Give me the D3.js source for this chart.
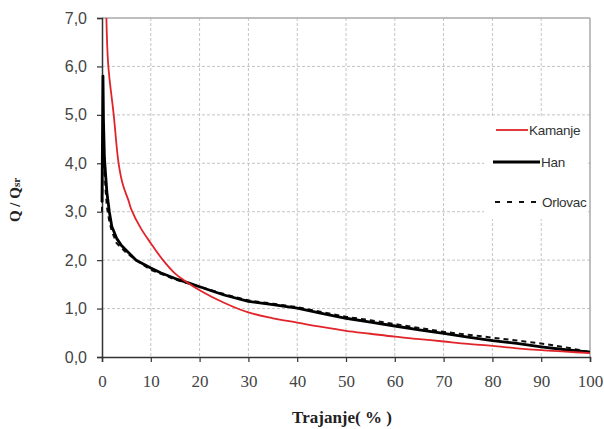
<!DOCTYPE html>
<html>
<head>
<meta charset="utf-8">
<script src="https://cdn.jsdelivr.net/npm/d3@7"></script>
<style>
  body { margin: 0; background: #fff; }
  .tick text { fill: #444; }
</style>
</head>
<body>
<div id="chart"></div>
<script>
// duration curves, x = trajanje (%), y = Q / Qsr
var kamanjeX = [0.9, 1.3, 2.4, 3.4, 4.3, 5.4, 6.0, 8, 10, 12.5, 15, 17, 20, 25, 30, 35, 40, 45, 50, 55, 60, 65, 70, 75, 80, 85, 90, 95, 100];
var kamanjeY = [7.0, 6.0, 5.0, 4.0, 3.55, 3.24, 3.05, 2.65, 2.35, 2.0, 1.72, 1.57, 1.38, 1.12, 0.92, 0.8, 0.71, 0.62, 0.54, 0.48, 0.42, 0.37, 0.32, 0.27, 0.23, 0.18, 0.14, 0.11, 0.08];

var hanX = [0, 0.2, 0.3, 0.5, 1, 1.5, 2, 3, 4, 5, 7, 10, 12, 15, 18, 20, 25, 30, 35, 40, 45, 50, 55, 60, 65, 70, 75, 80, 85, 90, 95, 100];
var hanY = [3.2, 5.8, 4.9, 4.1, 3.4, 3.0, 2.7, 2.45, 2.3, 2.2, 2.0, 1.84, 1.74, 1.62, 1.52, 1.45, 1.28, 1.15, 1.08, 1.01, 0.9, 0.8, 0.72, 0.64, 0.56, 0.49, 0.41, 0.34, 0.28, 0.21, 0.15, 0.1];

var orlovacX = [0, 0.2, 0.4, 0.7, 1, 1.5, 2, 3, 4, 5, 7, 10, 15, 20, 25, 30, 35, 40, 45, 50, 55, 60, 65, 70, 75, 80, 85, 90, 95, 100];
var orlovacY = [3.0, 4.9, 4.2, 3.5, 3.1, 2.8, 2.6, 2.35, 2.25, 2.15, 2.0, 1.8, 1.6, 1.45, 1.3, 1.17, 1.1, 1.03, 0.93, 0.83, 0.76, 0.68, 0.6, 0.52, 0.46, 0.4, 0.34, 0.28, 0.2, 0.1];

var xTicks = [0, 10, 20, 30, 40, 50, 60, 70, 80, 90, 100];
var yTicks = [0, 1, 2, 3, 4, 5, 6, 7];

var seriesNames = ["Kamanje", "Han", "Orlovac"];

var svgWidth = 604, svgHeight = 429;
var margin = { top: 18, right: 14, bottom: 72, left: 102 };
var width = svgWidth - margin.left - margin.right;
var height = svgHeight - margin.top - margin.bottom;

var svg = d3.select("#chart").append("svg")
  .attr("width", svgWidth)
  .attr("height", svgHeight);

var chartGroup = svg.append("g")
  .attr("transform", `translate(${margin.left}, ${margin.top})`);

var xScale = d3.scaleLinear().domain([0, 100]).range([0, width]);
var yScale = d3.scaleLinear().domain([0, 7]).range([height, 0]);

// grid
chartGroup.append("g").selectAll("line.gx")
  .data(xTicks.slice(1, -1))
  .enter().append("line")
  .attr("x1", d => xScale(d)).attr("x2", d => xScale(d))
  .attr("y1", 0).attr("y2", height)
  .attr("stroke", "#c4c4c4").attr("stroke-dasharray", "3,2");

chartGroup.append("g").selectAll("line.gy")
  .data(yTicks.slice(1, -1))
  .enter().append("line")
  .attr("x1", 0).attr("x2", width)
  .attr("y1", d => yScale(d)).attr("y2", d => yScale(d))
  .attr("stroke", "#c4c4c4").attr("stroke-dasharray", "3,2");

// top and right frame
chartGroup.append("line")
  .attr("x1", 0).attr("x2", width).attr("y1", 0).attr("y2", 0)
  .attr("stroke", "#a8a8a8").attr("stroke-width", 1.5);
chartGroup.append("line")
  .attr("x1", width).attr("x2", width).attr("y1", 0).attr("y2", height)
  .attr("stroke", "#a8a8a8").attr("stroke-width", 1.5);

// white legend box covering the grid
chartGroup.append("rect")
  .attr("x", xScale(78.3)).attr("y", yScale(4.97))
  .attr("width", xScale(99.6) - xScale(78.3))
  .attr("height", yScale(2.85) - yScale(4.97))
  .attr("fill", "#fff");

// axes
var leftAxis = d3.axisLeft(yScale).tickValues(yTicks)
  .tickSize(5).tickPadding(10)
  .tickFormat(d => d3.format(".1f")(d).replace(".", ","));
var bottomAxis = d3.axisBottom(xScale).tickValues(xTicks)
  .tickSize(5).tickPadding(13);

var yAxis = chartGroup.append("g").call(leftAxis);
yAxis.selectAll("text")
  .style("font-family", "Liberation Sans, Arial, sans-serif")
  .style("font-size", "16px");

var xAxis = chartGroup.append("g")
  .attr("transform", `translate(0, ${height})`)
  .call(bottomAxis);
xAxis.selectAll("text")
  .style("font-family", "Liberation Serif, Times New Roman, serif")
  .style("font-size", "17px");

[yAxis, xAxis].forEach(function (ax) {
  ax.select(".domain").attr("stroke", "#333").attr("stroke-width", 1.5);
  ax.selectAll(".tick line").attr("stroke", "#333").attr("stroke-width", 1.2);
});

// curves
var line = d3.line()
  .x(d => xScale(d[0]))
  .y(d => yScale(d[1]));

function pairs(xs, ys) {
  return xs.map((x, i) => [x, ys[i]]);
}

chartGroup.append("path")
  .datum(pairs(orlovacX, orlovacY))
  .attr("d", line)
  .attr("fill", "none").attr("stroke", "#111")
  .attr("stroke-width", 2).attr("stroke-dasharray", "5,4");

chartGroup.append("path")
  .datum(pairs(hanX, hanY))
  .attr("d", line)
  .attr("fill", "none").attr("stroke", "#000")
  .attr("stroke-width", 2.8).attr("stroke-linejoin", "round");

chartGroup.append("path")
  .datum(pairs(kamanjeX, kamanjeY))
  .attr("d", line.curve(d3.curveCatmullRom))
  .attr("fill", "none").attr("stroke", "#e0242a")
  .attr("stroke-width", 1.8);

// legend
var legendItems = [
  { name: seriesNames[0], y: 130, x1: 496, x2: 528, color: "#e0242a", w: 1.8, dash: null },
  { name: seriesNames[1], y: 162, x1: 493, x2: 540, color: "#000", w: 3.2, dash: null },
  { name: seriesNames[2], y: 202, x1: 495, x2: 541, color: "#111", w: 2, dash: "5,7" }
];
var legend = svg.append("g");
legendItems.forEach(function (item) {
  legend.append("line")
    .attr("x1", item.x1).attr("x2", item.x2)
    .attr("y1", item.y).attr("y2", item.y)
    .attr("stroke", item.color).attr("stroke-width", item.w)
    .attr("stroke-dasharray", item.dash);
  legend.append("text")
    .attr("x", item.x2 + 1).attr("y", item.y + 5)
    .style("font-family", "Liberation Sans, Arial, sans-serif")
    .style("font-size", "13.5px")
    .style("letter-spacing", "-0.3px")
    .attr("fill", "#333")
    .text(item.name);
});

// axis titles
svg.append("text")
  .attr("x", 342).attr("y", 423)
  .attr("text-anchor", "middle")
  .style("font-family", "Liberation Serif, Times New Roman, serif")
  .style("font-weight", "bold")
  .style("font-size", "17px")
  .attr("fill", "#222")
  .text("Trajanje( % )");

var yTitle = svg.append("text")
  .attr("transform", "translate(20, 200) rotate(-90)")
  .attr("text-anchor", "middle")
  .style("font-family", "Liberation Serif, Times New Roman, serif")
  .style("font-weight", "bold")
  .style("font-size", "15px")
  .attr("fill", "#222");
yTitle.append("tspan").text("Q / Q");
yTitle.append("tspan").style("font-size", "11px").text("sr");
</script>
</body>
</html>
